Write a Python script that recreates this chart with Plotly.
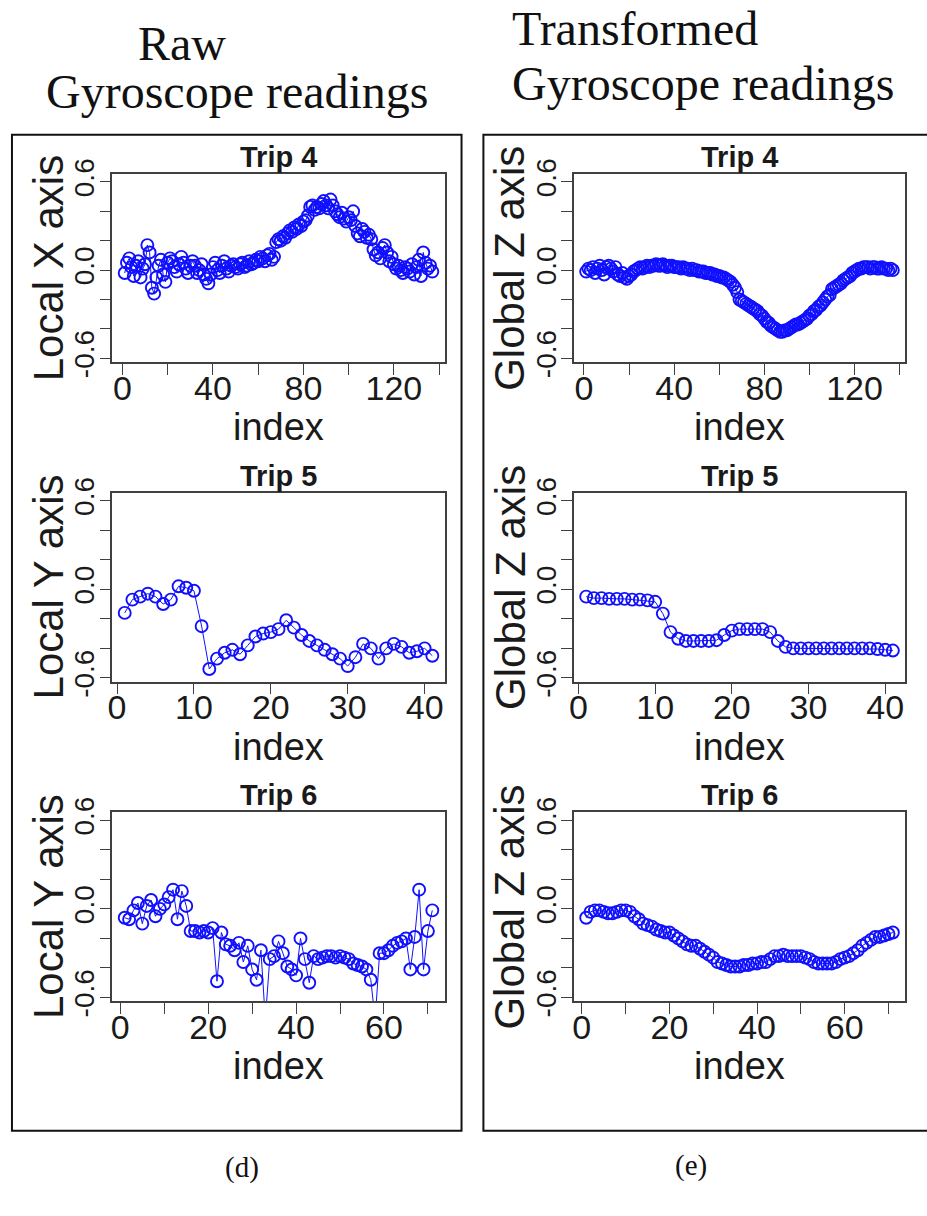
import plotly.graph_objects as go

# ---------------- data ----------------
trip4_raw_x = [
    -0.02, 0.05, 0.08, 0.02, -0.04, 0.03, 0.06, -0.05, 0.01, 0.04,
    0.17, 0.12, -0.12, -0.16, -0.05, 0.03, 0.07, -0.03, -0.08, 0.05,
    0.08, 0.06, 0.02, -0.01, 0.04, 0.09, 0.05, 0.01, -0.02, 0.03,
    0.06, 0.03, -0.02, 0.00, 0.04, -0.03, -0.06, -0.09, -0.03, 0.02,
    0.05, 0.00, -0.02, 0.03, 0.06, 0.01, -0.01, 0.03, 0.04, 0.02,
    0.01, 0.04, 0.05, 0.02, 0.03, 0.06, 0.04, 0.05, 0.07, 0.06,
    0.09, 0.08, 0.06, 0.10, 0.11, 0.07, 0.09, 0.19, 0.21, 0.20,
    0.23, 0.22, 0.25, 0.27, 0.26, 0.29, 0.28, 0.31, 0.30, 0.33,
    0.34, 0.37, 0.43, 0.44, 0.41, 0.43, 0.42, 0.45, 0.47, 0.44,
    0.42, 0.48, 0.44, 0.40, 0.38, 0.36, 0.39, 0.35, 0.33, 0.36,
    0.34, 0.40, 0.30, 0.25, 0.23, 0.28, 0.26, 0.22, 0.24, 0.21,
    0.14, 0.10, 0.12, 0.08, 0.15, 0.17, 0.12, 0.06, 0.09, 0.04,
    0.01, 0.03, 0.00, -0.02, 0.02, 0.01, -0.01, 0.04, -0.03, 0.02,
    0.07, -0.04, 0.12, 0.05, 0.01, 0.03, -0.01,
]

trip4_global_z = [
    -0.01, 0.01, 0.00, 0.02, -0.02, 0.01, 0.03, 0.00, -0.03, 0.02,
    0.03, 0.01, -0.01, 0.02, -0.03, -0.04, -0.02, -0.05, -0.06, -0.04,
    -0.03, -0.01, 0.00, 0.01, 0.02, 0.01, 0.02, 0.03, 0.02, 0.03,
    0.03, 0.04, 0.03, 0.03, 0.04, 0.03, 0.02, 0.03, 0.03, 0.02,
    0.02, 0.02, 0.01, 0.02, 0.01, 0.01, 0.00, 0.01, 0.00, 0.00,
    -0.01, -0.01, -0.01, -0.02, -0.02, -0.02, -0.03, -0.03, -0.04, -0.04,
    -0.05, -0.05, -0.06, -0.07, -0.08, -0.10, -0.12, -0.15, -0.20, -0.21,
    -0.22, -0.23, -0.24, -0.25, -0.26, -0.27, -0.28, -0.30, -0.31, -0.33,
    -0.35, -0.36, -0.38, -0.39, -0.40, -0.41, -0.42, -0.42, -0.41, -0.41,
    -0.40, -0.39, -0.38, -0.37, -0.37, -0.36, -0.35, -0.34, -0.33, -0.31,
    -0.30, -0.28, -0.27, -0.25, -0.24, -0.22, -0.20, -0.18, -0.17, -0.13,
    -0.12, -0.11, -0.10, -0.09, -0.07, -0.06, -0.05, -0.04, -0.02, -0.01,
    0.00, 0.01, 0.01, 0.02, 0.02, 0.02, 0.01, 0.02, 0.02, 0.01,
    0.01, 0.02, 0.01, 0.01, 0.00, 0.01, 0.00,
]

trip5_raw_y = [
    -0.16, -0.07, -0.05, -0.03, -0.05, -0.10, -0.07, 0.02, 0.01, -0.01,
    -0.25, -0.54, -0.47, -0.43, -0.41, -0.44, -0.38, -0.32, -0.30, -0.29,
    -0.27, -0.21, -0.26, -0.31, -0.35, -0.38, -0.41, -0.44, -0.47, -0.52,
    -0.46, -0.37, -0.40, -0.47, -0.40, -0.37, -0.39, -0.43, -0.42, -0.40,
    -0.45,
]

trip5_global_z = [
    -0.05, -0.06, -0.06, -0.065, -0.065, -0.065, -0.07, -0.07, -0.075, -0.085,
    -0.165, -0.29, -0.335, -0.35, -0.35, -0.35, -0.35, -0.345, -0.31, -0.28,
    -0.27, -0.27, -0.27, -0.27, -0.29, -0.35, -0.39, -0.40, -0.40, -0.40,
    -0.40, -0.40, -0.40, -0.40, -0.40, -0.40, -0.40, -0.40, -0.405, -0.41,
    -0.415,
]

trip6_raw_y = [
    -0.06, -0.07, -0.01, 0.04, -0.10, 0.02, 0.06, -0.05, 0.00, 0.03,
    0.08, 0.13, -0.07, 0.12, 0.02, -0.15, -0.15, -0.16, -0.15, -0.16,
    -0.13, -0.49, -0.16, -0.24, -0.25, -0.28, -0.23, -0.36, -0.25, -0.41,
    -0.48, -0.28, -0.75, -0.34, -0.32, -0.22, -0.30, -0.39, -0.41, -0.45,
    -0.20, -0.34, -0.50, -0.32, -0.34, -0.33, -0.32, -0.32, -0.33, -0.32,
    -0.33, -0.34, -0.37, -0.38, -0.39, -0.41, -0.48, -0.75, -0.30, -0.30,
    -0.28, -0.25, -0.23, -0.22, -0.20, -0.41, -0.19, 0.13, -0.41, -0.15,
    -0.01,
]

trip6_global_z = [
    -0.06, -0.02, -0.01, -0.01, -0.02, -0.03, -0.03, -0.02, -0.01, -0.01,
    -0.02, -0.05, -0.07, -0.10, -0.11, -0.12, -0.14, -0.15, -0.16, -0.16,
    -0.18, -0.20, -0.22, -0.24, -0.25, -0.25, -0.27, -0.29, -0.31, -0.33,
    -0.36, -0.37, -0.38, -0.39, -0.39, -0.39, -0.38, -0.38, -0.37, -0.37,
    -0.36, -0.36, -0.34, -0.32, -0.32, -0.31, -0.32, -0.32, -0.32, -0.32,
    -0.33, -0.34, -0.36, -0.37, -0.37, -0.37, -0.37, -0.36, -0.34, -0.33,
    -0.32, -0.30, -0.28, -0.25, -0.23, -0.21, -0.19, -0.19, -0.18, -0.17,
    -0.16,
]

# tick positions / labels
y_tickvals = [-0.6, -0.4, -0.2, 0.0, 0.2, 0.4, 0.6]
y_ticktext = ["-0.6", "", "", "0.0", "", "", "0.6"]
x_ticks_trip4 = [0, 20, 40, 60, 80, 100, 120, 140]
x_labels_trip4 = ["0", "", "40", "", "80", "", "120", ""]
x_ticks_trip5 = [0, 10, 20, 30, 40]
x_labels_trip5 = ["0", "10", "20", "30", "40"]
x_ticks_trip6 = [0, 10, 20, 30, 40, 50, 60, 70]
x_labels_trip6 = ["0", "", "20", "", "40", "", "60", ""]

panels = [
    # (values, y title, trip title, xticks, xlabels, column, row)
    (trip4_raw_x, "Local X axis", "Trip 4", x_ticks_trip4, x_labels_trip4, 0, 0),
    (trip4_global_z, "Global Z axis", "Trip 4", x_ticks_trip4, x_labels_trip4, 1, 0),
    (trip5_raw_y, "Local Y axis", "Trip 5", x_ticks_trip5, x_labels_trip5, 0, 1),
    (trip5_global_z, "Global Z axis", "Trip 5", x_ticks_trip5, x_labels_trip5, 1, 1),
    (trip6_raw_y, "Local Y axis", "Trip 6", x_ticks_trip6, x_labels_trip6, 0, 2),
    (trip6_global_z, "Global Z axis", "Trip 6", x_ticks_trip6, x_labels_trip6, 1, 2),
]

W, H = 927, 1216
# plot-area boxes in page pixels (left, right) / (top, bottom)
col_px = [(108, 442), (572, 905)]
row_px = [(163, 356), (490, 684), (818, 1012)]

SANS = "Liberation Sans, Arial, Helvetica, sans-serif"
SERIF = "Liberation Serif, Times New Roman, serif"
BLUE = "#1010ff"
AXC = "#404040"
TXT = "#1a1a1a"

fig = go.Figure()
layout = dict(
    width=W, height=H,
    margin=dict(l=0, r=0, t=0, b=0),
    paper_bgcolor="white", plot_bgcolor="white",
    showlegend=False,
)
annotations = []

for k, (vals, ytitle, ttl, xt, xl, c, r) in enumerate(panels, start=1):
    n = len(vals)
    idx = list(range(1, n + 1))
    pad = 0.04 * (n - 1)
    xa = "xaxis" if k == 1 else f"xaxis{k}"
    ya = "yaxis" if k == 1 else f"yaxis{k}"
    xref = "x" if k == 1 else f"x{k}"
    yref = "y" if k == 1 else f"y{k}"
    x0, x1 = col_px[c]
    y0, y1 = row_px[r]
    fig.add_trace(go.Scatter(
        x=idx, y=vals, mode="lines+markers", xaxis=xref, yaxis=yref,
        line=dict(color=BLUE, width=1),
        marker=dict(symbol="circle-open", size=12, color=BLUE,
                    line=dict(width=1.9, color=BLUE)),
        cliponaxis=True,
    ))
    layout[xa] = dict(
        domain=[x0 / W, x1 / W], anchor=yref,
        range=[1 - pad, n + pad],
        tickvals=xt, ticktext=xl, ticks="outside", ticklen=11,
        tickcolor=AXC, tickwidth=1.3, ticklabelstandoff=-16,
        tickfont=dict(family=SANS, size=34, color=TXT),
        showgrid=False, zeroline=False,
        showline=True, mirror=True, linecolor=AXC, linewidth=1.6,
    )
    layout[ya] = dict(
        domain=[1 - y1 / H, 1 - y0 / H], anchor=xref,
        range=[-0.625, 0.655],
        tickvals=y_tickvals, ticktext=y_ticktext, ticks="outside", ticklen=11,
        tickcolor=AXC, tickwidth=1.3, tickangle=-90, ticklabelstandoff=-6,
        tickfont=dict(family=SANS, size=28, color=TXT),
        showgrid=False, zeroline=False,
        showline=True, mirror=True, linecolor=AXC, linewidth=1.6,
    )
    dx = f"{xref} domain"
    dy = f"{yref} domain"
    # panel title
    annotations.append(dict(
        text=f"<b>{ttl}</b>", x=0.5, y=1, xref=dx, yref=dy,
        xanchor="center", yanchor="bottom", yshift=-1, showarrow=False,
        font=dict(family=SANS, size=29, color=TXT),
    ))
    # x axis title
    annotations.append(dict(
        text="index", x=0.5, y=0, xref=dx, yref=dy,
        xanchor="center", yanchor="middle", yshift=-65, showarrow=False,
        font=dict(family=SANS, size=38, color=TXT),
    ))
    # y axis title
    annotations.append(dict(
        text=ytitle, x=0, y=0.5, xref=dx, yref=dy, textangle=-90,
        xanchor="center", yanchor="middle", xshift=-64, showarrow=False,
        font=dict(family=SANS, size=42, color=TXT),
    ))

# column headings and panel letters
headings = [
    ("Raw", 178, 29),
    ("Gyroscope readings", 234, 78),
    ("Transformed", 633, 14),
    ("Gyroscope readings", 702, 70),
]
for txt, px, py in headings:
    annotations.append(dict(
        text=txt, x=px / W, y=1 - py / H, xref="paper", yref="paper",
        xanchor="center", yanchor="middle", showarrow=False,
        font=dict(family=SERIF, size=48, color="#111"),
    ))
for txt, px, py in [("(d)", 238, 1183), ("(e)", 690, 1181)]:
    annotations.append(dict(
        text=txt, x=px / W, y=1 - py / H, xref="paper", yref="paper",
        xanchor="center", yanchor="middle", showarrow=False,
        font=dict(family=SERIF, size=29, color="#111"),
    ))

layout["annotations"] = annotations
layout["shapes"] = [
    dict(type="rect", xref="paper", yref="paper",
         x0=7 / W, x1=459 / W, y0=1 - 1145 / H, y1=1 - 123 / H,
         line=dict(color="#111", width=2)),
    dict(type="rect", xref="paper", yref="paper",
         x0=481 / W, x1=940 / W, y0=1 - 1145 / H, y1=1 - 123 / H,
         line=dict(color="#111", width=2)),
]

fig.update_layout(**layout)
fig.write_html("out.html")
